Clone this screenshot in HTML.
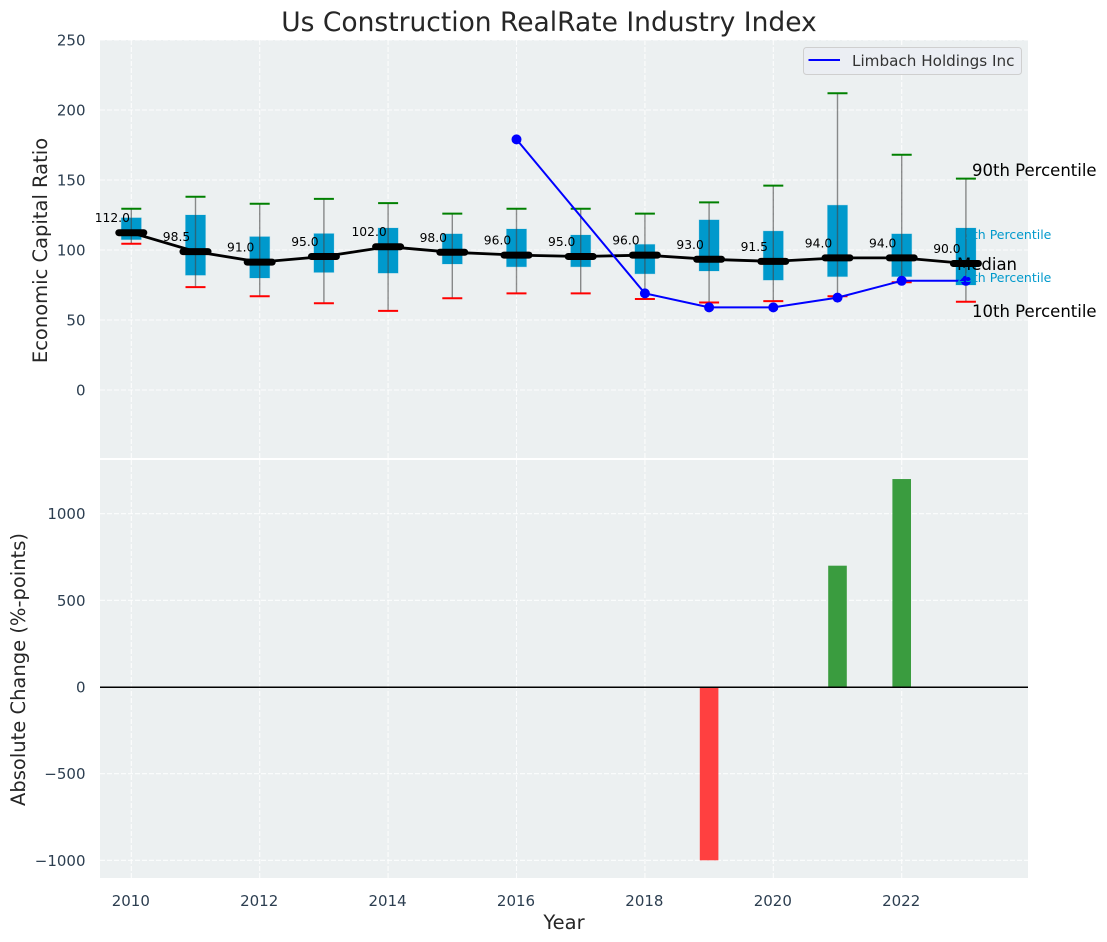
<!DOCTYPE html>
<html lang="en">
<head>
<meta charset="utf-8">
<title>Us Construction RealRate Industry Index</title>
<style>
html,body{margin:0;padding:0;background:#fff;}
svg{display:block;font-family:"DejaVu Sans","Liberation Sans",sans-serif;}
</style>
</head>
<body>
<svg id="chart" xmlns="http://www.w3.org/2000/svg" width="1107" height="942" viewBox="0 0 1107 942">
  <text x="549" y="31" font-size="26.5" text-anchor="middle" fill="#262626">Us Construction RealRate Industry Index</text>
  <rect x="100" y="40" width="928" height="418" fill="#ecf0f1"/>
  <rect x="100" y="460" width="928" height="418" fill="#ecf0f1"/>
  <g id="grid"></g>
  <g id="bars"></g>
  <line x1="100" x2="1028" y1="687.2" y2="687.2" stroke="#000" stroke-width="1.5"/>
  <g id="boxes"></g>
  <g id="medianLine"></g>
  <g id="company"></g>
  <g id="annotationsBack">
    <text x="957" y="239" font-size="12.5" fill="#0099cc">75th Percentile</text>
    <text x="957" y="282" font-size="12.5" fill="#0099cc">25th Percentile</text>
  </g>
  <g id="valueLabels"></g>
  <g id="ticks"></g>
  <text x="972" y="176" font-size="16.5" fill="#000">90th Percentile</text>
  <text x="957" y="270" font-size="16.5" fill="#000">Median</text>
  <text x="972" y="317" font-size="16.5" fill="#000">10th Percentile</text>
  <text transform="translate(47 250.5) rotate(-90)" font-size="19.5" text-anchor="middle" fill="#262626">Economic Capital Ratio</text>
  <text transform="translate(25 669.5) rotate(-90)" font-size="19.5" text-anchor="middle" fill="#262626">Absolute Change (%-points)</text>
  <text x="564" y="929" font-size="19.5" text-anchor="middle" fill="#262626">Year</text>
  <g>
    <rect x="803.5" y="47.5" width="218" height="27" rx="3" fill="#ebedf3" fill-opacity="0.9" stroke="#cfcfcf"/>
    <line x1="808.5" x2="840" y1="60" y2="60" stroke="#0000ff" stroke-width="2"/>
    <text x="852" y="66" font-size="15.2" fill="#333">Limbach Holdings Inc</text>
  </g>
</svg>
<script>
const years = [2010,2011,2012,2013,2014,2015,2016,2017,2018,2019,2020,2021,2022,2023];
const p90 = [129.5,138,133,136.5,133.5,126,129.5,129.5,126,134,146,212,168,151];
const p75 = [123,125,109.5,111.7,115.7,111.5,115,110.7,104,121.5,113.5,132,111.5,115.7];
const medians = [112,98.5,91,95,102,98,96,95,96,93,91.5,94,94,90];
const p25 = [107.4,82,80,84,83.5,90,88,88,83,85,78.5,81,81,75];
const p10 = [104.5,73.5,67,62,56.5,65.5,69,69,65,62.5,63.5,67,77,63];
const companyYears = [2016,2018,2019,2020,2021,2022,2023];
const companyValues = [179,69,59,59,66,78,78];
const changeYears = [2019,2021,2022];
const changeValues = [-1000,700,1200];
const xTicks = [2010,2012,2014,2016,2018,2020,2022];
const topTicks = [0,50,100,150,200,250];
const bottomTicks = [-1000,-500,0,500,1000];

const NS = 'http://www.w3.org/2000/svg';
const x = function (year) { return 131.3 + (year - 2010) * 64.2; };
const yTop = function (v) { return 390 - 1.4 * v; };
const yBottom = function (v) { return 687 - 0.1733 * v; };
const MEDIAN_NUDGE = -0.5;

function make(parent, tag, attrs, text) {
  const el = document.createElementNS(NS, tag);
  for (const k in attrs) el.setAttribute(k, attrs[k]);
  if (text !== undefined) el.textContent = text;
  parent.appendChild(el);
  return el;
}
function fmtTick(v) { return v < 0 ? '\u2212' + Math.abs(v) : String(v); }

const grid = document.getElementById('grid');
const ticks = document.getElementById('ticks');
const gridStyle = { stroke: '#ffffff', 'stroke-width': 1.1, 'stroke-dasharray': '5 2', 'stroke-opacity': 0.85 };

xTicks.forEach(function (t) {
  [[40, 458], [460, 878]].forEach(function (r) {
    const g = make(grid, 'line', Object.assign({ x1: x(t), x2: x(t), y1: r[0], y2: r[1] }, gridStyle));
    
    
  });
  const lab = make(ticks, 'text', { x: x(t) - 0.5, y: 906, 'font-size': 15, 'text-anchor': 'middle', fill: '#2c3e50' }, String(t));
  
  
});
topTicks.forEach(function (t) {
  const g = make(grid, 'line', Object.assign({ x1: 100, x2: 1028, y1: yTop(t), y2: yTop(t) }, gridStyle));
  
  
  const lab = make(ticks, 'text', { x: 85.5, y: yTop(t) + 5.5, 'font-size': 15, 'text-anchor': 'end', fill: '#2c3e50' }, fmtTick(t));
  
  
});
bottomTicks.forEach(function (t) {
  const g = make(grid, 'line', Object.assign({ x1: 100, x2: 1028, y1: yBottom(t), y2: yBottom(t) }, gridStyle));
  
  
  const lab = make(ticks, 'text', { x: 85.5, y: yBottom(t) + 5.5, 'font-size': 15, 'text-anchor': 'end', fill: '#2c3e50' }, fmtTick(t));
  
  
});

const bars = document.getElementById('bars');
changeYears.forEach(function (yr, i) {
  const v = changeValues[i];
  const y0 = yBottom(Math.max(v, 0));
  const y1 = yBottom(Math.min(v, 0));
  const b = make(bars, 'rect', { x: x(yr) - 9.3, y: y0, width: 18.6, height: y1 - y0, fill: v < 0 ? '#ff4040' : '#3a9c3f' });
  
  
});

const boxes = document.getElementById('boxes');
years.forEach(function (yr, i) {
  const cx = x(yr);
  const r = make(boxes, 'rect', { x: cx - 10, y: yTop(p75[i]), width: 20, height: yTop(p25[i]) - yTop(p75[i]), fill: '#0099cc', stroke: '#0099cc', 'stroke-opacity': 0.2, 'stroke-width': 1 });
  
  
  const w = make(boxes, 'line', { x1: cx, x2: cx, y1: yTop(p90[i]), y2: yTop(p10[i]), stroke: '#444', 'stroke-opacity': 0.6, 'stroke-width': 1.4 });
  
  
  const hi = make(boxes, 'line', { x1: cx - 10, x2: cx + 10, y1: yTop(p90[i]), y2: yTop(p90[i]), stroke: '#008000', 'stroke-width': 2 });
  
  
  const lo = make(boxes, 'line', { x1: cx - 10, x2: cx + 10, y1: yTop(p10[i]), y2: yTop(p10[i]), stroke: '#ff0000', 'stroke-width': 2 });
  
  
});

const medianGroup = document.getElementById('medianLine');
const medianPath = make(medianGroup, 'polyline', { points: years.map(function (yr, i) { return x(yr) + ',' + (yTop(medians[i]) + MEDIAN_NUDGE); }).join(' '), fill: 'none', stroke: '#000', 'stroke-width': 2.8 });


years.forEach(function (yr, i) {
  const my = yTop(medians[i]) + MEDIAN_NUDGE;
  const m = make(medianGroup, 'line', { x1: x(yr) - 12.5, x2: x(yr) + 12.5, y1: my, y2: my, stroke: '#000', 'stroke-width': 7, 'stroke-linecap': 'round' });
  
  
});

const company = document.getElementById('company');
const companyPath = make(company, 'polyline', { points: companyYears.map(function (yr, i) { return x(yr) + ',' + yTop(companyValues[i]); }).join(' '), fill: 'none', stroke: '#0000ff', 'stroke-width': 2 });


companyYears.forEach(function (yr, i) {
  const c = make(company, 'circle', { cx: x(yr), cy: yTop(companyValues[i]), r: 5, fill: '#0000ff' });
  
  
});

const valueLabels = document.getElementById('valueLabels');
years.forEach(function (yr, i) {
  const t = make(valueLabels, 'text', { x: x(yr) - 19, y: yTop(medians[i]) - 11, 'font-size': 12.3, 'text-anchor': 'middle', fill: '#000' }, medians[i].toFixed(1));
  
  
});
</script>
</body>
</html>
